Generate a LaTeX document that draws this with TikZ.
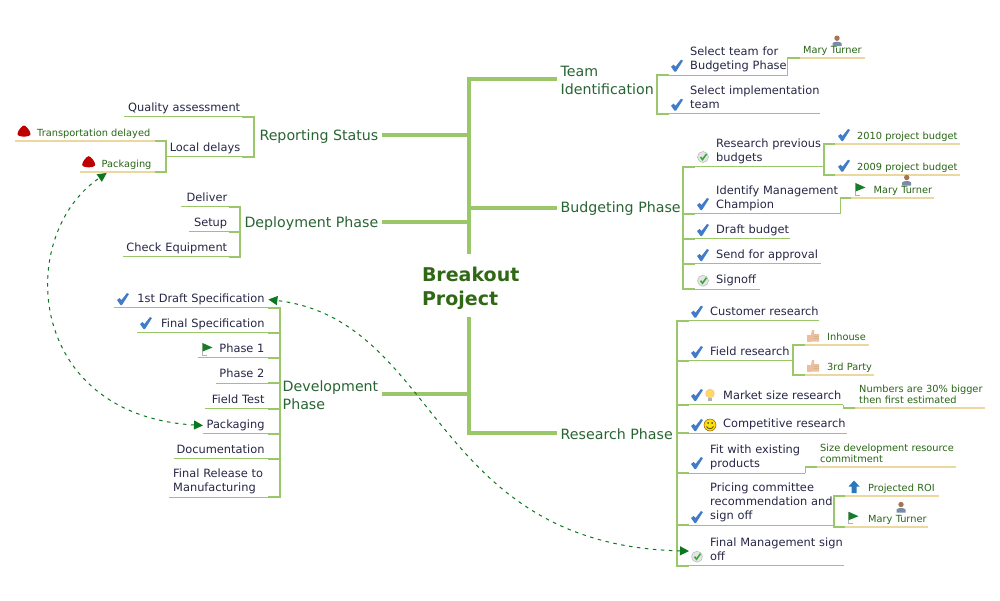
\documentclass[tikz,border=0pt]{standalone}
\usepackage{fontspec,xcolor}
\usetikzlibrary{arrows.meta}
\setmainfont{DejaVu Sans}
\definecolor{bough}{RGB}{155,199,107}
\definecolor{tan}{RGB}{236,216,158}
\definecolor{leadink}{RGB}{40,100,50}
\definecolor{rootink}{RGB}{48,104,22}
\definecolor{itemink}{RGB}{38,38,70}
\definecolor{tagink}{RGB}{40,100,20}
\definecolor{tick}{RGB}{66,124,200}
\definecolor{link}{RGB}{10,120,30}
\definecolor{flagc}{RGB}{20,125,40}
\definecolor{skin}{RGB}{235,190,160}
\definecolor{shirt}{RGB}{120,140,170}
\definecolor{hair}{RGB}{165,115,85}
\definecolor{upblue}{RGB}{40,120,190}
\tikzset{
 trunk/.style={draw=bough,line width=4pt},
 bar/.style={draw=bough,line width=2pt},
 rule/.style={draw=bough,line width=1pt},
 leadf/.style={font=\fontsize{14.2}{18}\selectfont,text=leadink,inner ysep=3pt,inner xsep=3.5pt,text height=13pt},
 itembase/.style={inner xsep=0pt,inner ysep=1pt,anchor=south west,text=itemink,font=\fontsize{11.4}{14}\selectfont,execute at end node={\strut},
  append after command={(\tikzlastnode.south west) edge[rule] (\tikzlastnode.south east)}},
 leaf/.style 2 args={itembase,text width=#1pt,align=left,execute at begin node={\leftskip=#2pt\rightskip=-8pt plus 1fil}},
 rleaf/.style 2 args={itembase,text width=#1pt,align=right,execute at begin node={\rightskip=#2pt}},
 tag/.style 2 args={inner xsep=0pt,inner ysep=1pt,anchor=south west,text=tagink,font=\fontsize{9.8}{11}\selectfont,execute at end node={\strut},text width=#1pt,align=left,execute at begin node={\leftskip=#2pt\rightskip=-8pt plus 1fil},
  append after command={(\tikzlastnode.south west) edge[draw=tan,line width=1.6pt] (\tikzlastnode.south east)}},
 dlink/.style={draw=link,dash pattern=on 3.5pt off 4.5pt,line width=1pt,{Triangle[length=9pt,width=9pt]}-{Triangle[length=9pt,width=9pt]}},
 chk/.pic={\fill[tick] (-6,1)--(-3.5,-1)--(-1.5,1)--(4,-6)--(6,-5)--(-1,6)--(-2.5,6)--cycle;},
 okc/.pic={\fill[gray!20,draw=gray!50,line width=.6pt] (0,0) circle (5.5);\draw[green!60!black!80,line width=1.6pt] (-2.5,0)--(-.5,2.5)--(3.5,-3);},
 man/.pic={\fill[shirt] (-4.5,5.5) -- (-4.5,2.5) .. controls (-3.5,.5) and (3.5,.5) .. (4.5,2.5) -- (4.5,5.5) --cycle;\fill[hair] (0,-2.5) circle (2.7);},
 flg/.pic={\draw[gray!60,line width=.8pt] (-5,-6)--(-5,6)--(0,6);\fill[flagc] (-4.5,-6)--(5.5,-1.5)--(-4.5,2.5)--cycle;},
 thm/.pic={\fill[skin] (-6,-1) rectangle (-2.5,5.5);\fill[skin] (-2,-1)--(-1,-6)--(1,-6)--(1,-2)--(6,-2)--(6,5.5)--(-2,5.5)--cycle;\draw[brown!60,line width=.6pt] (1,0)--(6,0) (1,2)--(6,2);},
 blb/.pic={\fill[yellow!55!orange!60,draw=orange!50,line width=.6pt] (0,-1.5) circle (4.3);\fill[gray!60] (-2,3) rectangle (2,6);},
 sml/.pic={\fill[yellow!85!orange,draw=orange!60!black,line width=.5pt] (0,0) circle (6);\fill[black!70] (-2,-2) circle (1) (2,-2) circle (1);\draw[black!70,line width=.8pt] (-3.5,1.5) .. controls (-1.5,4.5) and (1.5,4.5) .. (3.5,1.5);},
 blob/.pic={\fill[red!75!black] (0,-6.5) .. controls (2,-6.5) and (6.5,-1) .. (6.5,2) .. controls (6.5,5.5) and (-6.5,5.5) .. (-6.5,2) .. controls (-6.5,-1) and (-2,-6.5) .. (0,-6.5);},
 upa/.pic={\fill[upblue] (0,-6.5)--(5.5,-.5)--(2.5,-.5)--(2.5,6)--(-2.5,6)--(-2.5,-.5)--(-5.5,-.5)--cycle;}
}
\begin{document}
\begin{tikzpicture}[x=1pt,y=-1pt,>=Latex]
\useasboundingbox (0,0) rectangle (1000,600);
% centre and main branches
\node[text width=100pt,align=left,inner sep=0pt,minimum height=63pt,text height=20pt,text=rootink,font=\fontsize{19}{24}\selectfont\bfseries,execute at begin node={\leftskip=3pt}] (root) at (469,285.5) {Breakout\\Project};
\node[leadf,anchor=west,align=left,text height=31pt] (team) at (557,79) {Team\\Identification};
\node[leadf,anchor=west] (bud) at (557,207.7) {Budgeting Phase};
\node[leadf,anchor=west] (res) at (557,433) {Research Phase};
\node[leadf,anchor=east] (rep) at (382,135) {Reporting Status};
\node[leadf,anchor=east] (dep) at (382,222) {Deployment Phase};
\node[leadf,anchor=east,align=left,text height=31pt] (dev) at (382,394) {Development\\Phase};
\draw[trunk] (root.north) |- (team.west);\draw[trunk] (root.south) |- (res.west);
\draw[trunk] (bud.west)--(bud.west -| root);\draw[trunk] (rep.east)--(rep.east -| root);
\draw[trunk] (dep.east)--(dep.east -| root);\draw[trunk] (dev.east)--(dev.east -| root);
% team identification
\node[leaf={116}{21}] (ts) at (669,75) {Select team for\\Budgeting Phase};
\node[leaf={151}{21}] (ti) at (669,113.7) {Select implementation\\team};
\node[tag={65}{3}] (tm) at (800,57.7) {Mary Turner};
\draw[bar] (ts.south west)--++(-12,0) |- (ti.south west);
\draw[rule] (ts.south east)--++(2,0) |- (tm.south west);
\draw[bar] (tm.south west)--++(-12,0);
% budgeting phase
\node[leaf={128}{21}] (b1) at (695,166.7) {Research previous\\budgets};
\node[leaf={145}{21}] (b2) at (695,213.7) {Identify Management\\Champion};
\node[leaf={95}{21}] (b3) at (695,238.7) {Draft budget};
\node[leaf={126}{21}] (b4) at (695,263.7) {Send for approval};
\node[leaf={65}{21}] (b5) at (695,289) {Signoff};
\node[tag={125}{22}] (b1a) at (835,144) {2010 project budget};
\node[tag={125}{22}] (b1b) at (835,175) {2009 project budget};
\node[tag={83}{22.5}] (b2a) at (851,198) {Mary Turner};
\draw[bar] (b1.south west)--++(-12,0) |- (b5.south west);
\draw[bar] (b2.south west)--++(-12,0);\draw[bar] (b3.south west)--++(-12,0);\draw[bar] (b4.south west)--++(-12,0);
\draw[bar] (b1a.south west)--++(-11,0) |- (b1b.south west);
\draw[rule] (b2.south east)|- (b2a.south west);\draw[bar] (b2a.south west)--++(-11,0);
% research phase
\node[leaf={130}{21}] (r1) at (689,320.7) {Customer research};
\node[leaf={104}{21}] (r2) at (689,360.7) {Field research};
\node[leaf={154}{34}] (r3) at (689,404.7) {Market size research};
\node[leaf={158}{34}] (r4) at (689,433.3) {Competitive research};
\node[leaf={116}{21}] (r5) at (689,473) {Fit with existing\\products};
\node[leaf={145}{21}] (r6) at (689,525.3) {Pricing committee\\recommendation and\\sign off};
\node[leaf={155}{21}] (r7) at (689,565.7) {Final Management sign\\off};
\node[tag={64}{22}] (r2a) at (805,345) {Inhouse};
\node[tag={69}{22}] (r2b) at (805,375) {3rd Party};
\node[tag={130}{4}] (r3a) at (855,408) {Numbers are 30\% bigger\\then first estimated};
\node[tag={139}{3}] (r5a) at (817,467) {Size development resource\\commitment};
\node[tag={94}{23}] (r6a) at (845,496) {Projected ROI};
\node[tag={83}{23}] (r6b) at (845,526.7) {Mary Turner};
\draw[bar] (r1.south west)--++(-12,0) |- (r7.south west);
\draw[bar] (r2.south west)--++(-12,0);\draw[bar] (r3.south west)--++(-12,0);\draw[bar] (r4.south west)--++(-12,0);
\draw[bar] (r5.south west)--++(-12,0);\draw[bar] (r6.south west)--++(-12,0);
\draw[bar] (r2a.south west)--++(-12,0) |- (r2b.south west);
\draw[rule] (r3.south east)|- (r3a.south west);\draw[bar] (r3a.south west)--++(-12,0);
\draw[rule] (r5.south east)|- (r5a.south west);\draw[bar] (r5a.south west)--++(-12,0);
\draw[bar] (r6a.south west)--++(-11,0) |- (r6b.south west);
% reporting status
\node[rleaf={118}{2}] (q) at (124,116.7) {Quality assessment};
\node[rleaf={76}{2}] (ld) at (166,156.7) {Local delays};
\node[tag={140}{22}] (tr) at (15,140.7) {Transportation delayed};
\node[tag={75}{21.5}] (pk) at (80,172) {Packaging};
\draw[bar] (q.south east)--++(12,0) |- (ld.south east);
\draw[bar] (tr.south east)--++(11,0) |- (pk.south east);
% deployment phase
\node[rleaf={48}{2}] (d1) at (181,206.7) {Deliver};
\node[rleaf={40}{2}] (d2) at (189,231.7) {Setup};
\node[rleaf={106}{2}] (d3) at (123,256.7) {Check Equipment};
\draw[bar] (d1.south east)--++(11,0) |- (d3.south east);\draw[bar] (d2.south east)--++(11,0);
% development phase
\node[rleaf={154}{3.7}] (s1) at (114,307.7) {1st Draft Specification};
\node[rleaf={131}{3.7}] (s2) at (137,332.7) {Final Specification};
\node[rleaf={70}{3.7}] (s3) at (198,357.7) {Phase 1};
\node[rleaf={52}{3.7}] (s4) at (216,383) {Phase 2};
\node[rleaf={63}{3.7}] (s5) at (205,408.7) {Field Test};
\node[rleaf={65}{3.7}] (s6) at (203,433.7) {Packaging};
\node[rleaf={94}{3.7}] (s7) at (174,458.7) {Documentation};
\node[leaf={99}{4}] (s8) at (169,497.3) {Final Release to\\Manufacturing};
\draw[bar] (s1.south east)--++(11.3,0) |- (s8.south east);
\draw[bar] (s2.south east)--++(11.3,0);\draw[bar] (s3.south east)--++(11.3,0);\draw[bar] (s4.south east)--++(11.3,0);
\draw[bar] (s5.south east)--++(11.3,0);\draw[bar] (s6.south east)--++(11.3,0);\draw[bar] (s7.south east)--++(11.3,0);
% markers
\path (677,65.7) pic{chk} (677,104.7) pic{chk} (844,135) pic{chk} (844,165.7) pic{chk};
\path (703,204) pic{chk} (703,230) pic{chk} (703,255) pic{chk};
\path (697,311.7) pic{chk} (697,352) pic{chk} (697,395) pic{chk} (697,425) pic{chk} (697,463) pic{chk} (697,517) pic{chk};
\path (123,299) pic{chk} (146,323) pic{chk};
\path (703,157) pic{okc} (703,280.7) pic{okc} (697,556.7) pic{okc};
\path (837,40.7) pic{man} (906.7,180) pic{man} (901,507) pic{man};
\path (860,189) pic{flg} (853,517.7) pic{flg} (207,349) pic{flg};
\path (813,336) pic{thm} (813,366) pic{thm};
\path (710,395) pic{blb} (710,425) pic{sml} (854,487) pic{upa};
\path (24,132) pic{blob} (88.7,162.7) pic{blob};
% links
\draw[dlink] (s6.west) .. controls (25,415) and (15,235) .. ([xshift=-11pt,yshift=-1pt]pk.south);
\draw[dlink] (r7.west) .. controls (430,545) and (440,320) .. (s1.east);
\end{tikzpicture}
\end{document}
